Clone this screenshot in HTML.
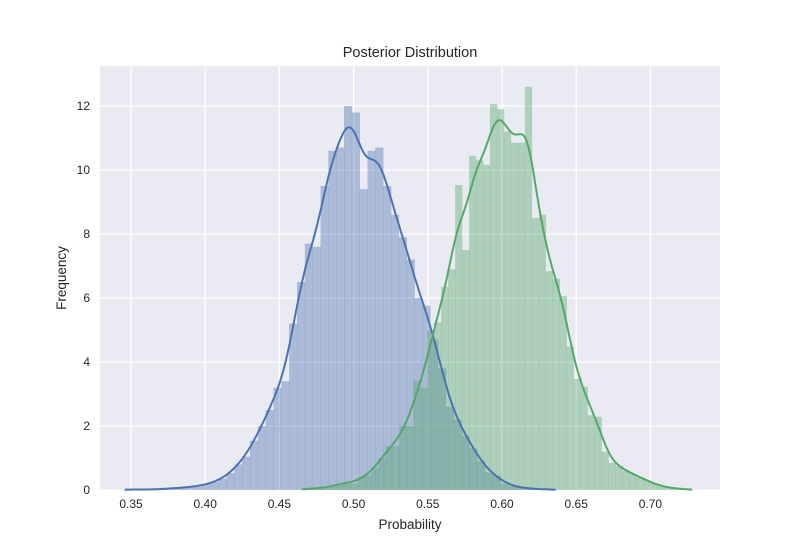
<!DOCTYPE html>
<html><head><meta charset="utf-8"><style>
body{margin:0;background:#fff;}
svg text{font-family:"Liberation Sans",Arial,sans-serif;fill:#262626;}
</style></head><body>
<svg id="chart" width="800" height="550" xmlns="http://www.w3.org/2000/svg">
<rect x="100" y="66" width="620" height="424" fill="#eaeaf2"/>
<g id="grid"></g>
<g id="bars"></g>
<g id="lines"></g>
<g id="ticks"></g>
<text x="410" y="57" text-anchor="middle" font-size="14.5">Posterior Distribution</text>
<text x="410" y="529" text-anchor="middle" font-size="13.5">Probability</text>
<text x="66" y="278" text-anchor="middle" font-size="13.5" transform="rotate(-90 66 278)">Frequency</text>
</svg>
<script>
const xTicks=[0.35,0.40,0.45,0.50,0.55,0.60,0.65,0.70];
const yTicks=[0,2,4,6,8,10,12];
const blueStart=0.3457, blueWidth=0.00528;
const blueValues=[0.03,0,0.03,0,0.03,0.05,0.05,0.08,0.1,0.12,0.18,0.25,0.35,0.53,0.8,1.04,1.54,2.0,2.5,3.2,3.4,5.2,6.5,7.7,7.6,9.5,10.6,10.7,12.0,11.8,9.4,10.6,10.7,9.5,8.6,7.9,7.2,6.0,5.76,4.7,3.8,2.6,2.2,1.7,1.3,0.9,0.55,0.45,0.2,0.12,0.08,0.05,0.03,0.02,0.02];
const greenStart=0.4650, greenWidth=0.0047;
const greenValues=[0.03,0.05,0.05,0.1,0.1,0.2,0.25,0.2,0.4,0.45,0.7,1.0,1.37,1.37,2.0,2.0,3.42,3.2,4.97,5.23,6.35,6.9,9.53,7.5,10.44,10.3,10.16,12.06,11.9,11.2,10.85,10.85,12.6,8.5,8.6,6.84,6.6,6.06,4.48,3.47,3.23,2.34,2.29,1.2,0.85,0.75,0.6,0.5,0.4,0.3,0.2,0.12,0.08,0.05,0.03,0.02];
const X=v=>131+(v-0.35)*1484;
const Y=v=>490-v*32;
const NS="http://www.w3.org/2000/svg";
function mk(tag,attrs,parent){const e=document.createElementNS(NS,tag);for(const k in attrs)e.setAttribute(k,attrs[k]);document.getElementById(parent).appendChild(e);return e;}
xTicks.forEach(t=>{
  const l=mk('line',{x1:X(t),x2:X(t),y1:66,y2:490,stroke:'#fff','stroke-width':1.3},'grid');
  
  
  const tx=mk('text',{x:X(t),y:508,'text-anchor':'middle','font-size':12},'ticks');
  tx.textContent=t.toFixed(2);
  
  
});
yTicks.forEach(t=>{
  const l=mk('line',{x1:100,x2:720,y1:Y(t),y2:Y(t),stroke:'#fff','stroke-width':1.3},'grid');
  
  
  const tx=mk('text',{x:90,y:Y(t)+4,'text-anchor':'end','font-size':12},'ticks');
  tx.textContent=t;
  
  
});
function hist(start,w,vals,color,name){
  vals.forEach((v,i)=>{
    const x0=X(start+i*w),x1=X(start+(i+1)*w);
    const r=mk('rect',{x:x0,y:Y(v),width:x1-x0+0.3,height:v*32,fill:color,'fill-opacity':0.4},'bars');
    
    
  });
}
function kde(start,w,vals,color,name){
  const bw=1.1*w;
  const lo=start, hi=start+vals.length*w;
  let d='';
  for(let k=0;k<=400;k++){
    const x=lo+(hi-lo)*k/400;let s=0;
    vals.forEach((v,i)=>{const c=start+(i+0.5)*w;const z=(x-c)/bw;s+=v*w*Math.exp(-0.5*z*z);});
    s=s/(bw*Math.sqrt(2*Math.PI));
    d+=(k?'L':'M')+X(x).toFixed(1)+','+Y(s).toFixed(1);
  }
  const p=mk('path',{d:d,fill:'none',stroke:color,'stroke-width':2},'lines');
  
  
}
hist(blueStart,blueWidth,blueValues,'#4c72b0','blue-hist-bar');
hist(greenStart,greenWidth,greenValues,'#55a868','green-hist-bar');
kde(blueStart,blueWidth,blueValues,'#4c72b0','blue-kde-line');
kde(greenStart,greenWidth,greenValues,'#55a868','green-kde-line');
</script>
</body></html>
